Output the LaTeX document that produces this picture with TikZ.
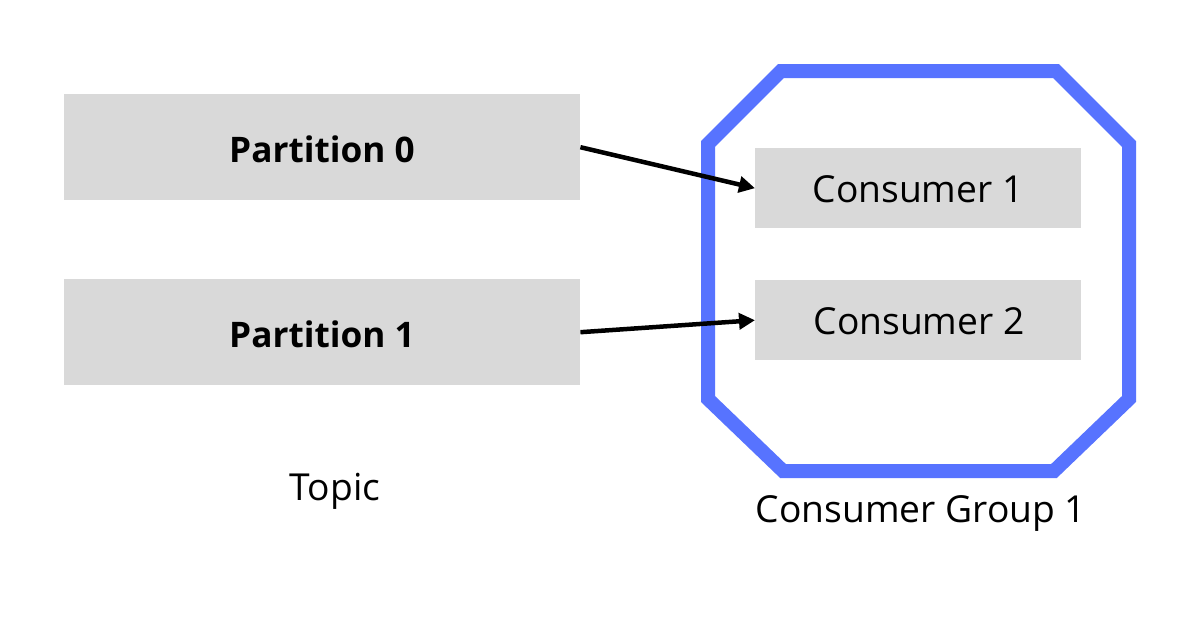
\documentclass[tikz,border=0pt]{standalone}
\usepackage{fontspec}
\setmainfont{Open Sans}
\usetikzlibrary{arrows.meta}
\definecolor{boxgray}{HTML}{D9D9D9}
\definecolor{grpblue}{HTML}{5773FF}
\begin{document}
\begin{tikzpicture}[x=1pt,y=-1pt,
  box/.style={fill=boxgray,draw=none,inner sep=0pt,anchor=north west},
  lbl/.style={font=\fontsize{37.2}{45}\selectfont,inner sep=0pt},
  blbl/.style={font=\fontsize{35.2}{42}\selectfont\bfseries,inner sep=0pt},
  conn/.style={line width=4.5pt,-{Triangle[length=16pt,width=16pt]}}]
\useasboundingbox (0,0) rectangle (1200,640);
\fill[white] (0,0) rectangle (1200,640);
% group octagon
\draw[grpblue,line width=14pt,line join=miter]
  (781,71) -- (1056,71) -- (1129,144) -- (1129,399) -- (1054,471) -- (783,471) -- (708,399) -- (708,144) -- cycle;
\node[box,minimum width=516pt,minimum height=106pt] (p0) at (64,94) {};
\node[blbl] at (322,149) {Partition 0};
\node[box,minimum width=516pt,minimum height=106pt] (p1) at (64,279) {};
\node[blbl] at (322,334) {Partition 1};
\node[box,minimum width=326pt,minimum height=80pt] (c1) at (755,148) {};
\node[lbl] at (918,189) {Consumer 1};
\node[box,minimum width=326pt,minimum height=80pt] (c2) at (755,280) {};
\node[lbl] at (919,321) {Consumer 2};
\node[lbl] (topic) at (335,491) {Topic};
\node[lbl] (grp) at (921,513) {Consumer Group 1};
\draw[conn] (p0.east) -- (c1.west);
\draw[conn] (p1.east) -- (c2.west);
\end{tikzpicture}
\end{document}
